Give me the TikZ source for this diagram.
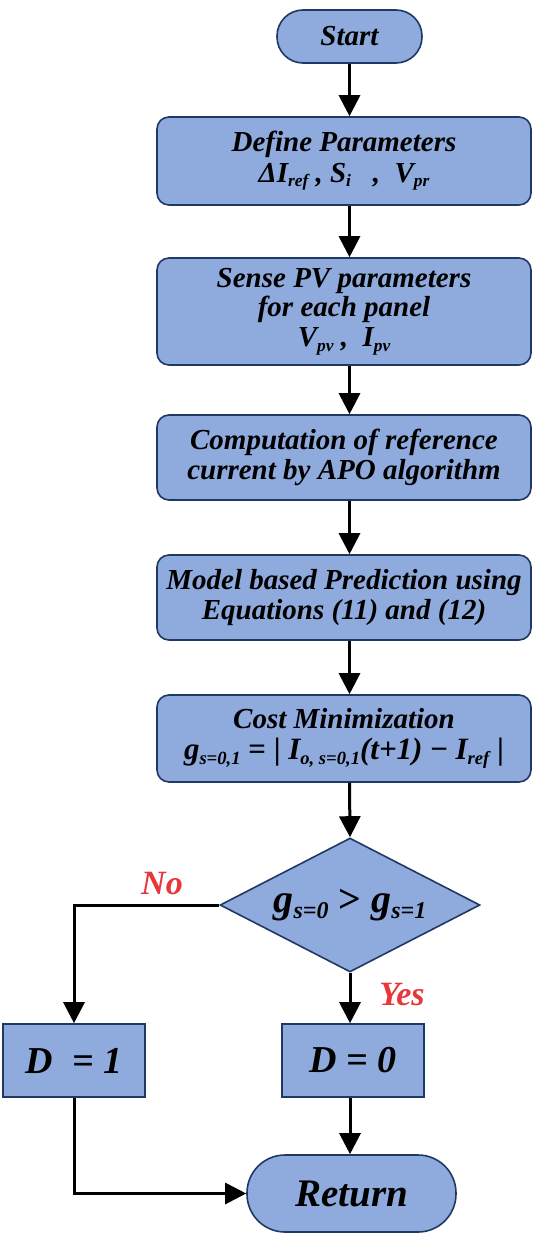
\documentclass[tikz,border=0pt]{standalone}
\usepackage{fontspec}
\setmainfont{Liberation Serif}
\usetikzlibrary{shapes.geometric,arrows.meta,calc}
\definecolor{boxfill}{HTML}{8FAADC}
\definecolor{boxline}{HTML}{1F3864}
\definecolor{lblred}{HTML}{E8363A}
\newcommand\dn[2][0.6]{\raisebox{-0.35ex}{\scalebox{#1}{#2}}}
\begin{document}
\begin{tikzpicture}[x=1pt,y=-1pt,
  base/.style={draw=boxline, line width=1.6pt, fill=boxfill, align=center,
    inner sep=0pt, font=\fontsize{29}{29.5}\selectfont\bfseries\itshape},
  procbox/.style={base, rounded corners=12pt, minimum width=374pt},
  termbox/.style={base},
  sqbox/.style={base, minimum width=142pt, minimum height=73pt,
    font=\fontsize{38}{38}\selectfont\bfseries\itshape},
  decbox/.style={base, diamond, aspect=1.94, minimum width=260pt, minimum height=134pt,
    font=\fontsize{40}{40}\selectfont\bfseries\itshape},
  flow/.style={line width=3pt, -{Triangle[length=21pt,width=21pt]}},
  lbl/.style={text=lblred, font=\fontsize{34}{34}\selectfont\bfseries\itshape, inner sep=0pt}
]
\useasboundingbox (0,0) rectangle (546,1234);

\node[termbox, rounded corners=26pt, minimum width=145pt, minimum height=53pt] (start) at (349.5,36.5) {Start};
\node[procbox, minimum height=88pt] (define) at (344,161)
  {Define Parameters\\[1pt] ΔI\dn{ref} , S\dn{i} \ \ , \ V\dn{pr}};
\node[procbox, minimum height=107pt] (sense) at (344,311.5)
  {Sense PV parameters\\ for each panel\\ V\dn{pv} , \ I\dn{pv}};
\node[procbox, minimum height=85pt] (comp) at (344,457.5)
  {Computation of reference\\ current by APO algorithm};
\node[procbox, minimum height=85pt] (model) at (344,597.5)
  {Model based Prediction using\\ Equations (11) and (12)};
\node[procbox, minimum height=87pt] (cost) at (344,738.5)
  {Cost Minimization\\[2pt] {\fontsize{31}{31}\selectfont g\dn{s=0,1} {\upshape =} {\upshape |} I\dn{o, s=0,1}(t+1) {\upshape −} I\dn{ref} {\upshape |}}};
\node[decbox] (dec) at (350,905) {g\dn{s=0} {\upshape >} g\dn{s=1}};
\node[sqbox] (d1) at (74,1060.5) {D \ = 1};
\node[sqbox] (d0) at (353,1060.5) {D = 0};
\node[termbox, rounded corners=38pt, minimum width=209pt, minimum height=77pt,
  font=\fontsize{39}{39}\selectfont\bfseries\itshape] (ret) at (351.5,1193.5) {Return};

\node[lbl] (no) at (162,884) {No};
\node[lbl] (yes) at (402,995) {Yes};

\draw[flow] (start.south) -- (start.south |- define.north);
\draw[flow] (start.south |- define.south) -- (start.south |- sense.north);
\draw[flow] (start.south |- sense.south) -- (start.south |- comp.north);
\draw[flow] (start.south |- comp.south) -- (start.south |- model.north);
\draw[flow] (start.south |- model.south) -- (start.south |- cost.north);
\draw[flow] (start.south |- cost.south) -- (dec.north);
\draw[flow] (dec.west) -| (d1.north);
\draw[flow] (dec.south) -- (dec.south |- d0.north);
\draw[flow] (dec.south |- d0.south) -- (dec.south |- ret.north);
\draw[flow] (d1.south) |- (ret.west);
\end{tikzpicture}
\end{document}
